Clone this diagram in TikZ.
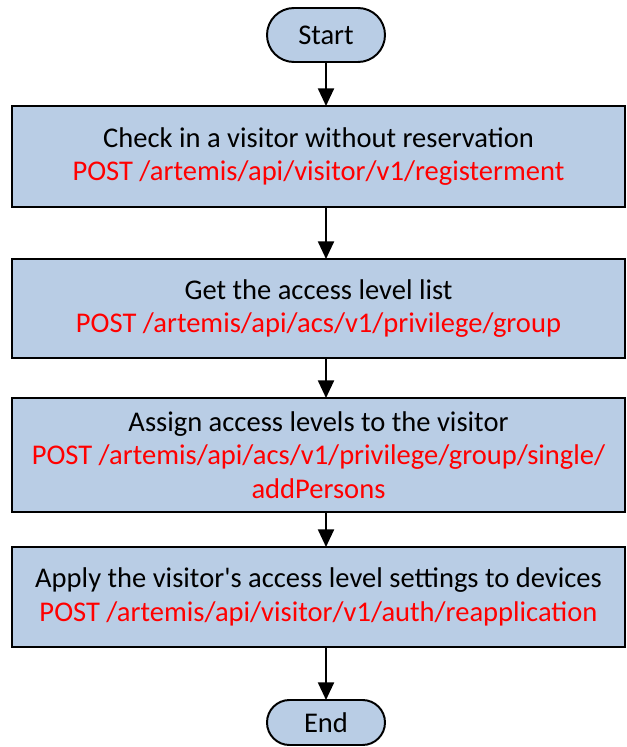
\documentclass[tikz,border=0pt]{standalone}
\usepackage{fontspec}
\newfontfamily\chartfont{Carlito}
\usetikzlibrary{shapes.misc, arrows.meta, positioning}
\definecolor{boxblue}{RGB}{185,205,229}

\begin{document}
\begin{tikzpicture}[
  line width=1.4pt,
  font=\chartfont\fontsize{20.3}{24}\selectfont,
  terminal/.style={rounded rectangle, draw, fill=boxblue, minimum width=2.95cm, inner sep=0pt, outer sep=0pt},
  process/.style={rectangle, draw, fill=boxblue, minimum width=15.325cm, align=center, inner sep=0pt, outer sep=0pt},
  flow/.style={-{Triangle[width=0.4cm, length=0.44cm]}}]

  \useasboundingbox (0,0) rectangle (15.675,-18.675);

  \node[terminal, minimum height=1.35cm](start) at (8.15,-0.875){Start};
  \node[process, minimum height=2.525cm, below=1.1cm of start, xshift=-0.1875cm](checkin)
    {Check in a visitor without reservation\\
     \textcolor{red}{POST /artemis/api/visitor/v1/registerment}};
  \node[process, minimum height=2.475cm, below=1.3cm of checkin](levellist)
    {Get the access level list\\
     \textcolor{red}{POST /artemis/api/acs/v1/privilege/group}};
  \node[process, minimum height=2.85cm, below=1cm of levellist](assign)
    {Assign access levels to the visitor\\
     \textcolor{red}{POST /artemis/api/acs/v1/privilege/group/single/}\\
     \textcolor{red}{addPersons}};
  \node[process, minimum height=2.5cm, below=0.875cm of assign](apply)
    {Apply the visitor's access level settings to devices\\
     \textcolor{red}{POST /artemis/api/visitor/v1/auth/reapplication}};
  \node[terminal, minimum height=1.125cm, below=1.325cm of apply, xshift=0.1875cm](end){End};

  \draw[flow] (start) -- (checkin.north -| start);
  \draw[flow] (checkin.south -| start) -- (levellist.north -| start);
  \draw[flow] (levellist.south -| start) -- (assign.north -| start);
  \draw[flow] (assign.south -| start) -- (apply.north -| start);
  \draw[flow] (apply.south -| start) -- (end);
\end{tikzpicture}
\end{document}
